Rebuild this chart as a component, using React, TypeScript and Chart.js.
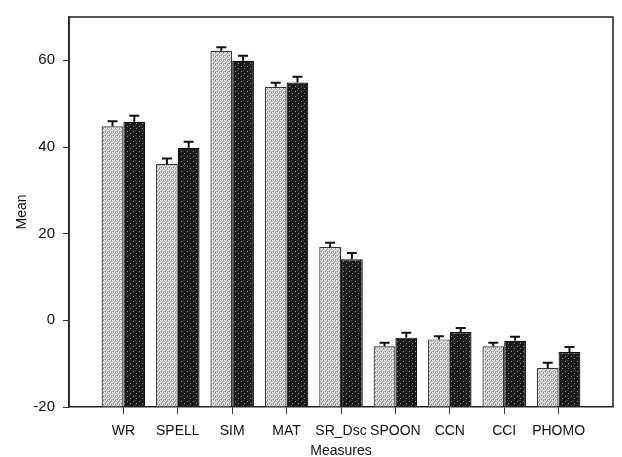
import React, { useEffect, useRef } from "react";
import { Chart, registerables } from "chart.js";

Chart.register(...registerables);

const categories = ["WR", "SPELL", "SIM", "MAT", "SR_Dsc", "SPOON", "CCN", "CCI", "PHOMO"];
const group1Means = [44.8, 36.1, 62.2, 53.9, 16.9, -6.0, -4.4, -6.0, -11.0];
const group1Errors = [0.9, 1.0, 0.6, 0.7, 0.8, 0.6, 0.5, 0.6, 1.0];
const group2Means = [45.8, 39.8, 59.9, 54.9, 14.1, -4.0, -2.7, -4.7, -7.3];
const group2Errors = [1.2, 1.2, 0.9, 1.1, 1.2, 0.9, 0.7, 0.7, 0.9];
const yTicks = [-20, 0, 20, 40, 60];
const yMin = -20;
const yMax = 70;

const FONT = "'Liberation Sans', Arial, Helvetica, sans-serif";

function makePattern(light: boolean): CanvasPattern | string {
  const c = document.createElement("canvas");
  const w = light ? 4 : 6;
  const h = light ? 4 : 5;
  c.width = w;
  c.height = h;
  const g = c.getContext("2d");
  if (!g) return light ? "#bbb" : "#222";
  g.fillStyle = light ? "#b8b8b8" : "#1a1a1a";
  g.fillRect(0, 0, w, h);
  if (light) {
    g.fillStyle = "#f4f4f4";
    [[0, 0], [2, 0], [1, 1], [3, 2], [0, 2], [2, 3]].forEach(([x, y]) => g.fillRect(x, y, 1, 1));
    g.fillStyle = "#8a8a8a";
    [[1, 3], [3, 0]].forEach(([x, y]) => g.fillRect(x, y, 1, 1));
  } else {
    g.fillStyle = "#8c8c8c";
    [[1, 1], [4, 3]].forEach(([x, y]) => g.fillRect(x, y, 1, 1));
    g.fillStyle = "#4a4a4a";
    [[3, 0]].forEach(([x, y]) => g.fillRect(x, y, 1, 1));
  }
  const p = g.createPattern(c, "repeat");
  return p || (light ? "#bbb" : "#222");
}

const pad = <T,>(arr: T[]): (T | null)[] => [null, ...arr, null];

export default function App() {
  const ref = useRef<HTMLCanvasElement>(null);

  useEffect(() => {
    if (!ref.current) return;
    const errs = [group1Errors, group2Errors];

    const errorBars = {
      id: "errorBars",
      afterDatasetsDraw(chart: any) {
        const ctx = chart.ctx;
        const ys = chart.scales.y;
        ctx.save();
        ctx.strokeStyle = "#111";
        ctx.lineWidth = 2;
        chart.data.datasets.forEach((ds: any, di: number) => {
          const meta = chart.getDatasetMeta(di);
          meta.data.forEach((el: any, i: number) => {
            const v = ds.data[i];
            if (v === null || v === undefined) return;
            const e = errs[di][i - 1];
            const yTop = ys.getPixelForValue(v);
            const yCap = ys.getPixelForValue(v + e) - 1;
            ctx.beginPath();
            ctx.moveTo(el.x, yTop);
            ctx.lineTo(el.x, yCap);
            ctx.moveTo(el.x - 5, yCap);
            ctx.lineTo(el.x + 5, yCap);
            ctx.stroke();
          });
        });
        ctx.restore();
      },
    };

    const frame = {
      id: "frame",
      afterDraw(chart: any) {
        const { left, top, right, bottom } = chart.chartArea;
        const ctx = chart.ctx;
        ctx.save();
        ctx.strokeStyle = "#222";
        ctx.lineWidth = 1.5;
        ctx.beginPath();
        ctx.moveTo(left, bottom);
        ctx.lineTo(left, top);
        ctx.lineTo(right, top);
        ctx.lineTo(right, bottom);
        ctx.stroke();
        ctx.restore();
      },
    };

    const chart = new Chart(ref.current, {
      type: "bar",
      data: {
        labels: ["", ...categories, ""],
        datasets: [
          {
            label: "Group 1",
            data: pad(group1Means),
            backgroundColor: makePattern(true) as any,
            borderColor: "#333",
            borderWidth: 1.2,
            base: yMin,
          } as any,
          {
            label: "Group 2",
            data: pad(group2Means),
            backgroundColor: makePattern(false) as any,
            borderColor: "#111",
            borderWidth: 1.2,
            base: yMin,
          } as any,
        ],
      },
      options: {
        animation: false,
        responsive: true,
        maintainAspectRatio: false,
        layout: { padding: { top: 11, right: 1, left: 0, bottom: 0 } },
        categoryPercentage: 0.8,
        barPercentage: 1.0,
        plugins: {
          legend: { display: false },
          tooltip: { enabled: false },
        },
        scales: {
          x: {
            offset: false,
            grid: {
              offset: false,
              drawOnChartArea: false,
              drawTicks: true,
              tickLength: 7,
              tickWidth: 1,
              tickColor: (c: any) => (c.index === 0 || c.index === categories.length + 1 ? "rgba(0,0,0,0)" : "#333"),
            },
            border: { display: true, color: "#222", width: 1.5 },
            ticks: {
              autoSkip: false,
              maxRotation: 0,
              minRotation: 0,
              padding: 9,
              color: "#111",
              font: { family: FONT, size: 14 },
            },
            title: {
              display: true,
              text: "Measures",
              color: "#111",
              font: { family: FONT, size: 14 },
              padding: { top: 0, bottom: -3 },
            },
            afterFit: (s: any) => {
              s.height = 50;
            },
          },
          y: {
            min: yMin,
            max: yMax,
            afterBuildTicks: (s: any) => {
              s.ticks = yTicks.map((v) => ({ value: v }));
            },
            grid: {
              drawOnChartArea: false,
              drawTicks: true,
              tickLength: 6,
              tickColor: "#333",
            },
            border: { display: true, color: "#222", width: 1.5 },
            ticks: {
              padding: 8,
              color: "#111",
              font: { family: FONT, size: 15 },
            },
            title: {
              display: true,
              text: "Mean",
              color: "#111",
              font: { family: FONT, size: 14 },
              padding: { top: 14, bottom: 0 },
            },
            afterFit: (s: any) => {
              s.width = 69;
            },
          },
        },
      } as any,
      plugins: [errorBars, frame],
    });
    return () => chart.destroy();
  }, []);

  return (
    <div style={{ position: "fixed", left: 0, top: 0, width: 622, height: 457, background: "#fff" }}>
      <canvas ref={ref} />
    </div>
  );
}
